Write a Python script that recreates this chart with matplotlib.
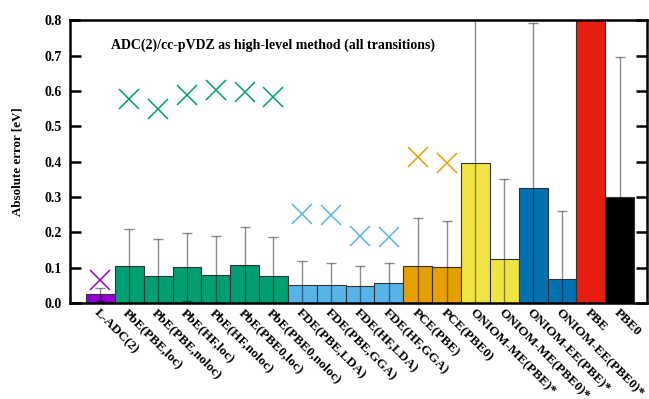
import numpy as np
import matplotlib
matplotlib.use('Agg')
import matplotlib.pyplot as plt

# ── Data ──
methods = ['L-ADC(2)',
           'PbE(PBE,loc)', 'PbE(PBE,noloc)', 'PbE(HF,loc)', 'PbE(HF,noloc)',
           'PbE(PBE0,loc)', 'PbE(PBE0,noloc)',
           'FDE(PBE,LDA)', 'FDE(PBE,GGA)', 'FDE(HF,LDA)', 'FDE(HF,GGA)',
           'PCE(PBE)', 'PCE(PBE0)',
           'ONIOM-ME(PBE)*', 'ONIOM-ME(PBE0)*', 'ONIOM-EE(PBE)*', 'ONIOM-EE(PBE0)*',
           'PBE', 'PBE0']
mean_err = [0.024,
            0.105, 0.075, 0.102, 0.080, 0.107, 0.077,
            0.051, 0.051, 0.047, 0.055,
            0.104, 0.101,
            0.397, 0.124, 0.326, 0.068,
            1.60, 0.300]
std_err = [0.0185,
           0.105, 0.105, 0.096, 0.109, 0.107, 0.110,
           0.067, 0.063, 0.056, 0.058,
           0.135, 0.130,
           0.55, 0.226, 0.466, 0.193,
           0.60, 0.397]
max_err = [0.064,
           0.577, 0.549, 0.589, 0.602, 0.598, 0.584,
           0.251, 0.250, 0.189, 0.187,
           0.414, 0.395,
           None, None, None, None,
           None, None]
bar_colors = (['#9400d3'] + ['#009e73'] * 6 + ['#56b4e9'] * 4 + ['#e69f00'] * 2
              + ['#f0e442'] * 2 + ['#0072b2'] * 2 + ['#e51e10', '#000000'])
y_ticks = [0.0, 0.1, 0.2, 0.3, 0.4, 0.5, 0.6, 0.7, 0.8]

plt.rcParams['font.family'] = ['Liberation Serif', 'DejaVu Serif']
plt.rcParams['font.weight'] = 'bold'

fig = plt.figure(figsize=(6.49, 3.99), dpi=100)
ax = fig.add_axes([0.108, 0.241, 0.889, 0.708])

x = np.arange(len(methods))
ax.bar(x, mean_err, width=1.0, color=bar_colors, edgecolor='#333333',
       linewidth=0.8, zorder=2)

# error bars clipped at zero
lower = [min(s, m) for m, s in zip(mean_err, std_err)]
ax.errorbar(x, mean_err, yerr=[lower, std_err], fmt='none', ecolor='k',
            elinewidth=1.0, capsize=3.5, capthick=1.0, alpha=0.45, zorder=3)

# maximum errors as crosses
for xi, mx, c in zip(x, max_err, bar_colors):
    if mx is not None:
        ax.plot(xi, mx, marker='x', markersize=14, markeredgewidth=1.1,
                color=c, zorder=4)

ax.set_xlim(-1.05, 18.95)
ax.set_ylim(0, 0.8)
ax.set_yticks(y_ticks)
ax.set_yticklabels([f'{v:.1f}' for v in y_ticks])
ax.set_xticks(x)
ax.set_xticklabels(methods, rotation=-45, ha='left', va='top',
                   rotation_mode='anchor', fontsize=9.6, fontweight='bold')
ax.tick_params(axis='x', length=0, pad=3)
ax.tick_params(axis='y', direction='in', length=8, width=1.8, labelsize=10,
               right=True, pad=6)
for sp in ax.spines.values():
    sp.set_linewidth(1.8)

ax.set_ylabel('Absolute error [eV]', fontsize=9.4, fontweight='bold')
ax.yaxis.set_label_coords(-0.08, 0.5)
ax.text(0.071, 0.913, 'ADC(2)/cc-pVDZ as high-level method (all transitions)',
        transform=ax.transAxes, fontsize=10, fontweight='bold', va='center')

fig.savefig('out.png', dpi=100)
